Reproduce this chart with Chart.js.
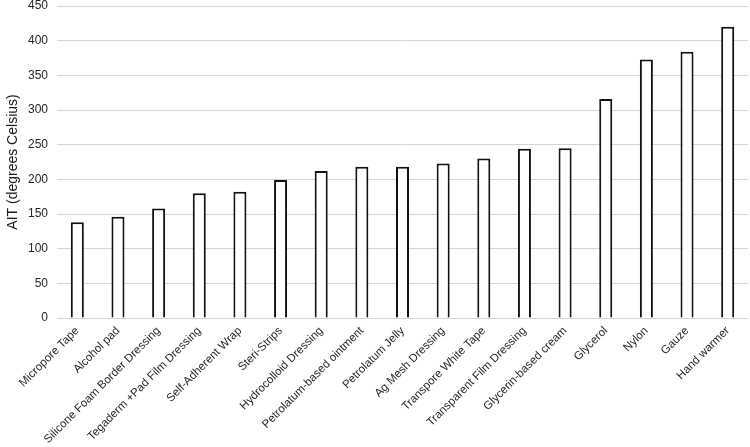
<!DOCTYPE html>
<html>
<head>
<meta charset="utf-8">
<script src="https://cdn.jsdelivr.net/npm/chart.js@4"></script>
<style>
html,body{margin:0;padding:0;background:#fff;}
#wrap{width:750px;height:447px;position:relative;}
</style>
</head>
<body>
<div id="wrap"><canvas id="c" width="750" height="447"></canvas></div>
<script>
const categories = ["Micropore Tape","Alcohol pad","Silicone Foam Border Dressing","Tegaderm +Pad Film Dressing","Self-Adherent Wrap","Steri-Strips","Hydrocolloid Dressing","Petrolatum-based ointment","Petrolatum Jelly","Ag Mesh Dressing","Transpore White Tape","Transparent Film Dressing","Glycerin-based cream","Glycerol","Nylon","Gauze","Hand warmer"];
const aitValues = [138,146,158,180,182,199,212,218,218,223,230,244,245,316,373,384,420];
const yTicks = [0,50,100,150,200,250,300,350,400,450];

new Chart(document.getElementById('c'), {
  type: 'bar',
  data: {
    labels: categories,
    datasets: [{
      data: aitValues,
      backgroundColor: '#ffffff',
      borderColor: '#111111',
      borderWidth: 2,
      barPercentage: 0.32,
      categoryPercentage: 1.0
    }]
  },
  options: {
    responsive: false,
    animation: false,
    devicePixelRatio: 1,
    layout: { padding: { top: 6, right: 2, left: 5, bottom: 0 } },
    plugins: { legend: { display: false }, tooltip: { enabled: false } },
    scales: {
      x: {
        grid: { display: false, drawTicks: false },
        border: { display: false },
        ticks: {
          autoSkip: false, maxRotation: 45, minRotation: 45,
          color: '#262626', padding: 6,
          font: { family: 'Liberation Sans, Arial', size: 11.5 }
        },
        afterFit(s) { s.height = 129; s.paddingLeft = 0; s.paddingRight = 0; }
      },
      y: {
        min: 0, max: 450,
        afterBuildTicks(s) { s.ticks = yTicks.map(v => ({ value: v })); },
        grid: { color: '#d4d4d4', lineWidth: 1, drawTicks: false },
        border: { display: false },
        ticks: {
          color: '#262626', padding: 9,
          font: { family: 'Liberation Sans, Arial', size: 12 }
        },
        title: {
          display: true, text: 'AIT (degrees Celsius)', color: '#1a1a1a',
          font: { family: 'Liberation Sans, Arial', size: 14 }, padding: { top: 0, bottom: 4 }
        },
        afterFit(s) { s.width = 52; s.paddingTop = 0; s.paddingBottom = 0; }
      }
    }
  }
});
</script>
</body>
</html>
